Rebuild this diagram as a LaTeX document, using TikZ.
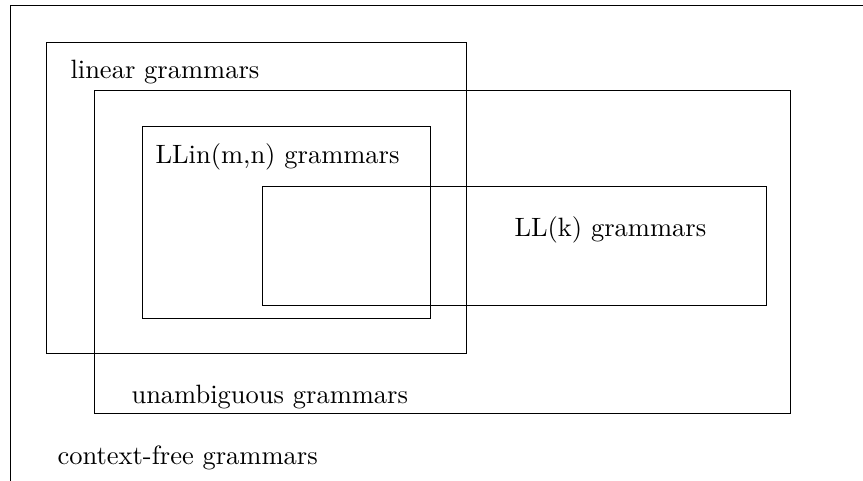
\documentclass[tikz,border=0pt]{standalone}
\begin{document}
\begin{tikzpicture}[x=1pt,y=-1pt,
  setbox/.style={draw=black, line width=0.9pt, inner sep=0pt, outer sep=0pt},
  lbl/.style={anchor=base west, inner sep=0pt, scale=2.65, font=\fontsize{10}{12}\selectfont}]
\useasboundingbox (0,0) rectangle (863,481);
\draw[line width=0.9pt] (10,481) -- (10,5) -- (863,5);
\node[setbox, minimum width=420pt, minimum height=311pt] (lin) at (256,197.5) {};
\node[setbox, minimum width=696pt, minimum height=323pt] (unamb) at (442,251.5) {};
\node[setbox, minimum width=288pt, minimum height=192pt] (llin) at (286,222) {};
\node[setbox, minimum width=504pt, minimum height=119pt] (llk) at (514,245.5) {};
\node[lbl] (tlin) at (70,79) {linear grammars};
\node[lbl] (tllin) at (155,164) {LLin(m,n) grammars};
\node[lbl] (tllk) at (514,237) {LL(k) grammars};
\node[lbl] (tunamb) at (131,403) {unambiguous grammars};
\node[lbl] (tcf) at (57,464) {context-free grammars};
\end{tikzpicture}
\end{document}
